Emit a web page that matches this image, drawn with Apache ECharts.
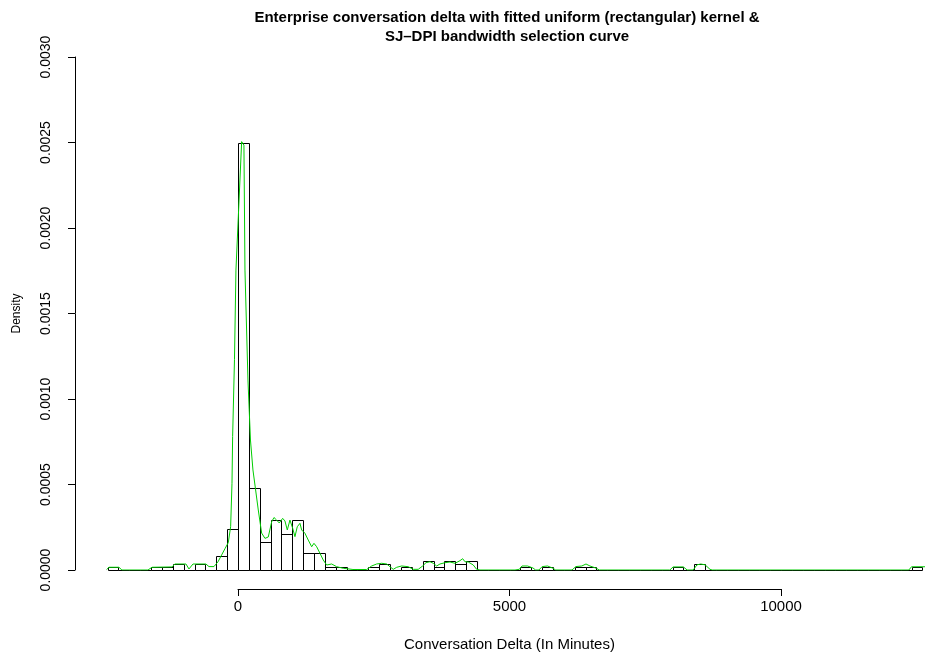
<!DOCTYPE html>
<html>
<head>
<meta charset="utf-8">
<script src="https://cdn.jsdelivr.net/npm/echarts@6/dist/echarts.min.js"></script>
<style>
html,body{margin:0;padding:0;background:#fff;}
#chart{width:925px;height:659px;}
</style>
</head>
<body>
<div id="chart"></div>
<script>
// Histogram bin left edges (minutes), bin width 200
const binLefts = [-2400,-2200,-2000,-1800,-1600,-1400,-1200,-1000,-800,-600,-400,-200,
  0,200,400,600,800,1000,1200,1400,1600,1800,2000,2200,2400,2600,2800,3000,3200,3400,
  3600,3800,4000,4200,4400,4600,4800,5000,5200,5400,5600,5800,6000,6200,6400,6600,6800,
  7000,7200,7400,7600,7800,8000,8200,8400,8600,8800,9000,9200,9400,9600,9800,10000,
  10200,10400,10600,10800,11000,11200,11400,11600,11800,12000,12200,12400];
const binWidth = 200;
// Histogram densities
const binDensity = [0.000019,0,0,0,0.000017,0.000017,0.000036,0,0.000036,0,0.000082,0.000242,
  0.0025,0.00048,0.000162,0.000291,0.000209,0.000291,0.000098,0.000098,0.000018,0.000018,0,0,0.000018,0.000036,0,0.000018,0,0.000051,
  0.000018,0.000051,0.000036,0.000051,0,0,0,0,0.000018,0,0.000018,0,0,0.000018,0.000018,0,0,
  0,0,0,0,0,0.000018,0,0.000036,0,0,0,0,0,0,0,0,
  0,0,0,0,0,0,0,0,0,0,0,0.000018];
// Kernel density curve (SJ-DPI bandwidth)
const curveX = [-2420,-2375,-2191,-2136,-1657,-1583,-1215,-1160,-957,-902,-828,-589,-534,-442,-368,-300,-239,-178,-135,-110,-98,-64,-37,68,87,110,129,184,230,276,313,374,436,497,558,620,663,712,760,823,865,908,957,1007,1049,1092,1141,1173,1233,1294,1357,1399,1449,1510,1570,1633,1725,1817,1939,2117,2369,
  2399,2461,2553,2645,2738,2798,2859,2922,3014,3135,3227,3319,3400,3461,3535,3596,3658,3719,3811,3903,3995,4087,4137,4179,4240,4332,4394,4455,
  5100,5179,5230,5330,5430,5480,5540,5600,5700,5800,5850,6150,6220,6330,6407,6480,6600,6650,7950,8010,8200,8270,8380,8450,8520,8600,8690,8730,12350,12400,12648];
const curveY = [0.000002,0.000016,0.000016,0,0,0.000016,0.000018,0.000035,0.000035,0.000006,0.000035,0.000035,0.00002,0.00002,0.000048,0.000088,0.000125,0.00016,0.000253,0.000507,0.00078,0.00123,0.001754,0.002505,0.002515,0.002485,0.001754,0.001111,0.00076,0.000585,0.000497,0.000351,0.000216,0.000185,0.000193,0.000281,0.000307,0.000292,0.000275,0.000302,0.000287,0.000234,0.000292,0.000244,0.000195,0.000253,0.000273,0.000234,0.000215,0.000175,0.000136,0.000156,0.000136,0.0000977,0.0000585,0.0000292,0.0000351,0.0000193,0.00001,0.000003,0.000003,
  0.00001,0.0000234,0.0000351,0.0000392,0.0000351,0.0000193,0.000004,0.0000158,0.0000234,0.0000193,0.000004,0.000004,0.0000234,0.0000427,0.0000485,0.0000392,0.0000234,0.0000351,0.0000427,0.0000468,0.0000392,0.0000544,0.0000661,0.0000485,0.0000468,0.0000292,0.000004,0,
  0,0.000004,0.0000234,0.0000234,0.000012,0,0,0.00002,0.0000234,0.00001,0,0,0.00002,0.0000234,0.0000351,0.0000234,0.00001,0,0,0.000018,0.000018,0,0,0.00003,0.0000351,0.00003,0.000004,0,0,0.000019,0.000019];
const yTicks = [0,0.0005,0.001,0.0015,0.002,0.0025,0.003];
const xTicks = [0,5000,10000];

const FONT = 'Liberation Sans, Arial, Helvetica, sans-serif';
const chart = echarts.init(document.getElementById('chart'), null, {renderer:'canvas'});
const barData = binLefts.map((l,i)=>[l, l+binWidth, binDensity[i]]);
const lineData = curveX.map((x,i)=>[x, curveY[i]]);

chart.setOption({
  animation:false,
  backgroundColor:'#fff',
  graphic:[
    {type:'text', x:507, y:10, style:{text:'Enterprise conversation delta with fitted uniform (rectangular) kernel &', font:'bold 15px '+FONT, fill:'#000', textAlign:'center'}},
    {type:'text', x:507, y:29, style:{text:'SJ\u2013DPI bandwidth selection curve', font:'bold 15px '+FONT, fill:'#000', textAlign:'center'}}
  ],
  grid:[
    {left:75, right:0, top:57, bottom:89},
    {left:238, right:144, top:580, bottom:70}
  ],
  xAxis:[
    {gridIndex:0, type:'value', min:-3000, max:12648, show:false},
    {gridIndex:1, type:'value', min:0, max:10000, interval:5000, position:'bottom',
      axisLine:{show:true, onZero:false, lineStyle:{color:'#000', width:1}},
      axisTick:{show:true, inside:false, length:7, lineStyle:{color:'#000'}},
      axisLabel:{show:true, margin:10, color:'#000', fontSize:15, fontFamily:FONT, formatter:v=>String(v)},
      splitLine:{show:false},
      name:'Conversation Delta (In Minutes)', nameLocation:'middle', nameGap:48,
      nameTextStyle:{color:'#000', fontSize:15, fontFamily:FONT}}
  ],
  yAxis:[
    {gridIndex:0, type:'value', min:0, max:0.003, interval:0.0005,
      axisLine:{show:true, onZero:false, lineStyle:{color:'#000', width:1}},
      axisTick:{show:true, inside:false, length:7, lineStyle:{color:'#000'}},
      axisLabel:{show:true, rotate:90, margin:22, color:'#000', fontSize:14, fontFamily:FONT,
        formatter:v=>v.toFixed(4)},
      splitLine:{show:false},
      name:'Density', nameLocation:'middle', nameGap:52, nameRotate:90,
      nameTextStyle:{color:'#000', fontSize:12, fontFamily:FONT}},
    {gridIndex:1, type:'value', min:0, max:1, show:false}
  ],
  series:[
    {type:'custom', xAxisIndex:0, yAxisIndex:0, data:barData, encode:{x:[0,1], y:2},
      renderItem:function(params, api){
        const p0 = api.coord([api.value(0), 0]);
        const p1 = api.coord([api.value(1), api.value(2)]);
        return {type:'rect', shape:{x:Math.round(p0[0])+0.5, y:Math.round(p1[1])+0.5, width:Math.round(p1[0])-Math.round(p0[0]), height:Math.round(p0[1])-Math.round(p1[1])},
          style:{fill:'none', stroke:'#000', lineWidth:1}};
      }},
    {type:'line', xAxisIndex:0, yAxisIndex:0, data:lineData, showSymbol:false, symbol:'none',
      lineStyle:{color:'#00CD00', width:1}, z:5},
    {type:'line', xAxisIndex:1, yAxisIndex:1, data:[]}
  ]
});
</script>
</body>
</html>
